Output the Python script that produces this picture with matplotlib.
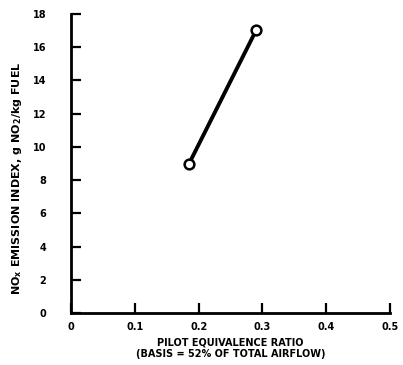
import numpy as np
import matplotlib
matplotlib.use('Agg')
import matplotlib.pyplot as plt

# values
ratio = [0.185, 0.29]
ei_nox = [9.0, 17.0]
xticks = [0, 0.1, 0.2, 0.3, 0.4, 0.5]
xtick_labels = ['0', '0.1', '0.2', '0.3', '0.4', '0.5']
yticks = [0, 2, 4, 6, 8, 10, 12, 14, 16, 18]

plt.rcParams['font.family'] = 'DejaVu Sans'
plt.rcParams['font.weight'] = 'bold'

fig = plt.figure(figsize=(4.03, 3.65), dpi=100)
ax = fig.add_axes([0.177, 0.142, 0.79, 0.82])

ax.plot(ratio, ei_nox, color='black', lw=2.8, solid_capstyle='butt',
        marker='o', markersize=7, markerfacecolor='white',
        markeredgecolor='black', markeredgewidth=1.8)

ax.set_xlim(0, 0.5)
ax.set_ylim(0, 18)
ax.set_xticks(xticks)
ax.set_xticklabels(xtick_labels)
ax.set_yticks(yticks)

for s in ['top', 'right']:
    ax.spines[s].set_visible(False)
for s in ['left', 'bottom']:
    ax.spines[s].set_linewidth(2)

ax.tick_params(axis='both', direction='in', length=7, width=1.6,
               labelsize=7)
ax.tick_params(axis='y', pad=18)
ax.tick_params(axis='x', pad=6)

ax.set_xlabel('PILOT EQUIVALENCE RATIO\n(BASIS = 52% OF TOTAL AIRFLOW)',
              fontsize=7, fontweight='bold', labelpad=4)
ax.set_ylabel('NO$_\\mathbf{x}$ EMISSION INDEX, g NO$_\\mathbf{2}$/kg FUEL',
              fontsize=8, fontweight='bold')
ax.yaxis.set_label_coords(-0.15, 0.45)

fig.savefig('out.png', dpi=100)
